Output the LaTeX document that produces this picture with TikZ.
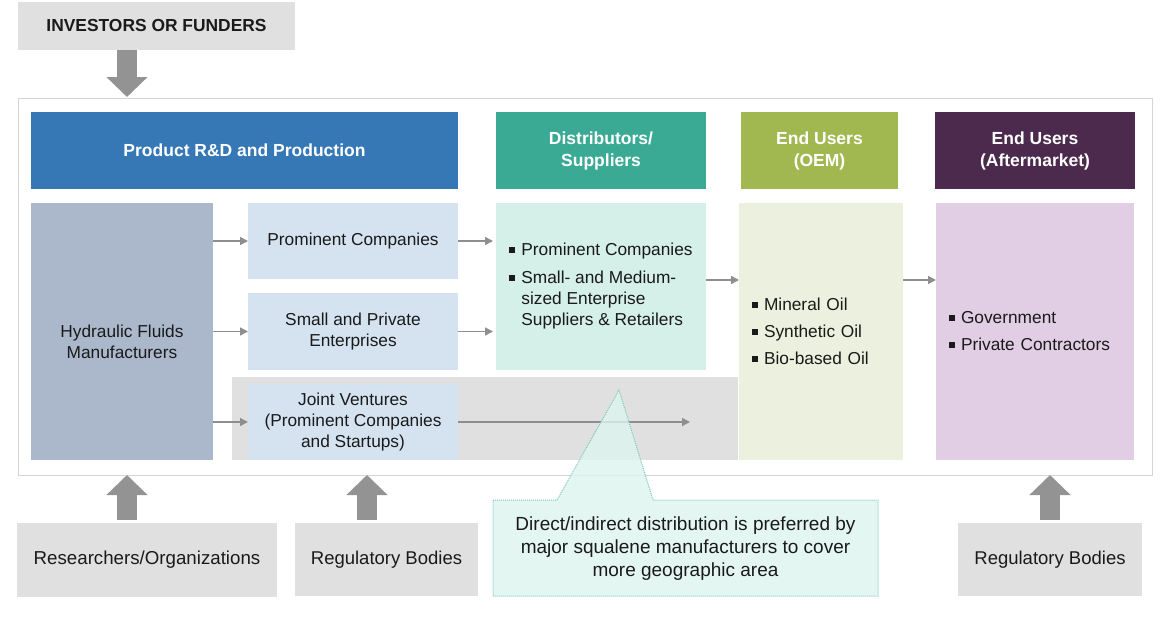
\documentclass[tikz,border=0pt]{standalone}
\usepackage{fontspec}
\setmainfont{Liberation Sans}
\usetikzlibrary{arrows.meta,calc}
\definecolor{txt}{HTML}{1A1A1A}
\definecolor{lgray}{HTML}{E0E0E0}
\definecolor{framec}{HTML}{D4D4D4}
\definecolor{hblue}{HTML}{3578B5}
\definecolor{hteal}{HTML}{3AAA94}
\definecolor{hgreen}{HTML}{A0B84F}
\definecolor{hpurple}{HTML}{4C2A4E}
\definecolor{hyd}{HTML}{ABB8CB}
\definecolor{lblue}{HTML}{D5E3F1}
\definecolor{lteal}{HTML}{D5EFE9}
\definecolor{lgreen}{HTML}{ECF0DE}
\definecolor{lpurple}{HTML}{E2CEE4}
\definecolor{agray}{HTML}{939393}
\definecolor{sgray}{HTML}{8E8E8E}
\definecolor{calfill}{HTML}{DDF4EF}
\definecolor{caledge}{HTML}{7CC9BB}
\newcommand{\bul}{\makebox[12pt][l]{\rule[3pt]{5.5pt}{5.5pt}}}
\newcommand{\bind}{\hspace*{12pt}}
\tikzset{
  box/.style={rectangle, draw=none, inner sep=0pt, outer sep=0pt, align=center, text=txt,
    font=\fontsize{17.3}{21}\selectfont},
  hdr/.style={box, text=white, font=\fontsize{17.5}{22}\selectfont\bfseries},
  listbox/.style={box, align=left, inner xsep=13pt},
  blockarrow/.style={draw=agray, line width=20pt, -{Triangle[width=40pt,length=20pt]}},
  smallarrow/.style={draw=sgray, line width=1.5pt, -{Triangle[width=8pt,length=8pt]}},
}
\begin{document}
\begin{tikzpicture}[x=1pt,y=-1pt]
\useasboundingbox (0,0) rectangle (1170,616);
% outer frame
\node[box, draw=framec, line width=1pt, fill=white, minimum width=1134pt, minimum height=377pt] (frame) at (585,286.5) {};
% investors
\node[box, fill=lgray, minimum width=277pt, minimum height=48pt, font=\fontsize{17.4}{22}\selectfont\bfseries] (inv) at (156.5,26) {INVESTORS OR FUNDERS};
% headers
\node[hdr, fill=hblue, minimum width=427pt, minimum height=77pt] (h1) at (244.5,150.5) {Product R\&D and Production};
\node[hdr, fill=hteal, minimum width=210pt, minimum height=77pt] (h2) at (601,150.5) {Distributors/\\Suppliers};
\node[hdr, fill=hgreen, minimum width=157pt, minimum height=77pt] (h3) at (819.5,150.5) {End Users\\(OEM)};
\node[hdr, fill=hpurple, minimum width=200pt, minimum height=77pt] (h4) at (1035,150.5) {End Users\\(Aftermarket)};
% band
\node[box, fill=lgray, minimum width=506pt, minimum height=83pt] (band) at (485,418.5) {};
% left column
\node[box, fill=hyd, minimum width=182pt, minimum height=257pt] (hyd) at (122,331.5) {};
\node[box] (hydt) at (122,342) {Hydraulic Fluids\\Manufacturers};
\node[box, fill=lblue, minimum width=210pt, minimum height=76pt] (pc) at (353,241) {Prominent Companies};
\node[box, fill=lblue, minimum width=210pt, minimum height=77pt] (sp) at (353,331.5) {Small and Private\\Enterprises};
\node[box, fill=lblue, minimum width=210pt, minimum height=76pt] (jv) at (353,422) {Joint Ventures\\(Prominent Companies\\and Startups)};
% content boxes
\node[box, align=left, fill=lteal, minimum width=210pt, minimum height=167pt] (dist) at (601,286.5)
  {\bul Prominent Companies\\[7pt]\bul Small- and Medium-\\\bind sized Enterprise\\\bind Suppliers \& Retailers};
\node[listbox, fill=lgreen, minimum width=164pt, minimum height=257pt, text width=138pt, font=\fontsize{17.3}{27}\selectfont] (oem) at (821,331.5)
  {\bul Mineral Oil\\\bul Synthetic Oil\\\bul Bio-based Oil};
\node[listbox, fill=lpurple, minimum width=198pt, minimum height=257pt, text width=172pt, font=\fontsize{17.3}{27}\selectfont] (aft) at (1035,331.5)
  {\bul Government\\\bul Private Contractors};
% bottom boxes
\node[box, fill=lgray, minimum width=260pt, minimum height=74pt, font=\fontsize{18.7}{22}\selectfont] (res) at (147,560) {Researchers/Organizations};
\node[box, fill=lgray, minimum width=183pt, minimum height=73pt, font=\fontsize{18.5}{22}\selectfont] (reg1) at (386.5,559.5) {Regulatory Bodies};
\node[box, fill=lgray, minimum width=184pt, minimum height=73pt, font=\fontsize{18.5}{22}\selectfont] (reg2) at (1050,559.5) {Regulatory Bodies};
% block arrows
\draw[blockarrow] ($(inv.south west)+(109,0)$) -- ($(inv.south west)+(109,47)$);
\draw[blockarrow] ($(res.north west)+(110,-3)$) -- ($(res.north west)+(110,-48)$);
\draw[blockarrow] ($(reg1.north west)+(72,-3)$) -- ($(reg1.north west)+(72,-48)$);
\draw[blockarrow] ($(reg2.north west)+(92,-3)$) -- ($(reg2.north west)+(92,-48)$);
% small arrows
\draw[smallarrow] (hyd.east |- pc.west) -- (pc.west);
\draw[smallarrow] (hyd.east |- sp.west) -- (sp.west);
\draw[smallarrow] (hyd.east |- jv.west) -- (jv.west);
\draw[smallarrow, shorten >=3pt] (pc.east) -- (pc.east -| dist.west);
\draw[smallarrow, shorten >=3pt] (sp.east) -- (sp.east -| dist.west);
\coordinate (jvend) at ($(jv.east)+(232,0)$);
\draw[smallarrow] (jv.east) -- (jvend);
\coordinate (a1) at ($(dist.north east)+(0,77)$);
\draw[smallarrow] (a1) -- (a1 -| oem.west);
\coordinate (a2) at ($(oem.north east)+(0,77)$);
\draw[smallarrow] (a2) -- (a2 -| aft.west);
% callout
\path[draw=caledge, line width=1pt, dash pattern=on 1pt off 1pt, fill=calfill, fill opacity=0.8]
  (493,500) -- (557,500) -- (619,390) -- (653,500) -- (878,500) -- (878,596) -- (493,596) -- cycle;
\node[box, font=\fontsize{19}{23}\selectfont] (callt) at (685.5,548.5) {Direct/indirect distribution is preferred by\\major squalene manufacturers to cover\\more geographic area};
\end{tikzpicture}
\end{document}
